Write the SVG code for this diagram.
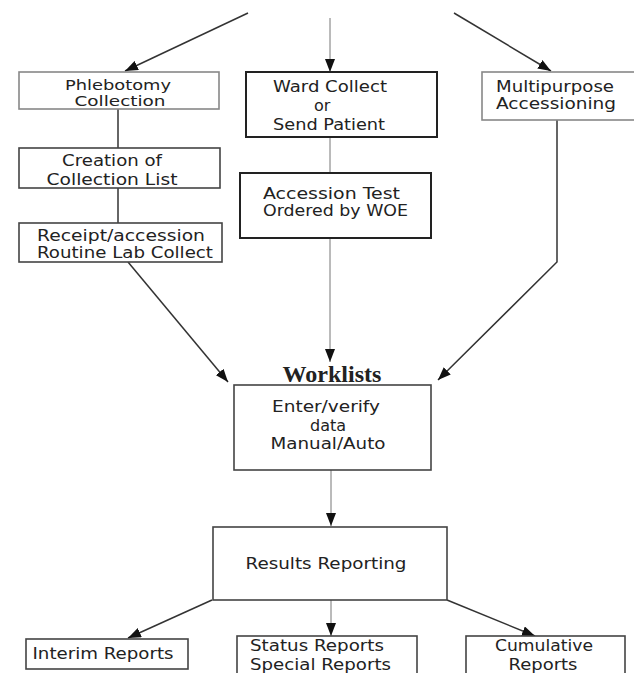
<svg xmlns="http://www.w3.org/2000/svg" width="634" height="673" viewBox="0 0 634 673">
<defs>
<marker id="ah" viewBox="0 0 13 10" refX="13" refY="5" markerWidth="13" markerHeight="10" markerUnits="userSpaceOnUse" orient="auto">
<path d="M0,0 L13,5 L0,10 Z" fill="#111"/>
</marker>
</defs>
<style>
.box{fill:#fff;stroke:#444;stroke-width:1.6}
.lite{stroke:#888}
.dark{stroke:#222;stroke-width:2}
.t{font-family:"DejaVu Sans",sans-serif;font-size:15px;fill:#222}
.s{font-size:14px}
.b{font-size:16px}
.c{text-anchor:middle}
.wl{font-family:"Liberation Serif",serif;font-weight:bold;font-size:23px;fill:#222;text-anchor:middle}
.ln{fill:none;stroke:#333;stroke-width:1.5}
.thin{fill:none;stroke:#777;stroke-width:1}
.arr{marker-end:url(#ah)}
</style>
<rect width="634" height="673" fill="#fff"/>
<g id="connectors">
<line class="ln arr" x1="248" y1="13" x2="125" y2="71"/>
<line class="thin arr" x1="330" y1="18" x2="330" y2="72"/>
<line class="ln arr" x1="454" y1="13" x2="551" y2="71"/>
<line class="ln" x1="118" y1="109" x2="118" y2="148"/>
<line class="ln" x1="118" y1="188" x2="118" y2="223"/>
<line class="ln arr" x1="128" y1="262" x2="228" y2="382"/>
<line class="thin" x1="330" y1="137" x2="330" y2="173"/>
<line class="thin arr" x1="330" y1="238" x2="330" y2="362"/>
<polyline class="ln arr" points="557,120 557,262 438,380"/>
<line class="thin arr" x1="331" y1="470" x2="331" y2="526"/>
<line class="ln arr" x1="212" y1="600" x2="128" y2="638"/>
<line class="thin arr" x1="331" y1="600" x2="331" y2="636"/>
<line class="ln arr" x1="447" y1="600" x2="535" y2="636"/>
</g>
<g id="phlebotomy">
<rect class="box lite" x="19" y="72" width="200" height="37"/>
<text class="t s c" x="118" y="90" textLength="106" lengthAdjust="spacingAndGlyphs">Phlebotomy</text>
<text class="t s c" x="120" y="106" textLength="91" lengthAdjust="spacingAndGlyphs">Collection</text>
</g>
<g id="ward">
<rect class="box dark" x="246" y="72" width="191" height="65"/>
<text class="t" x="273" y="92" textLength="114" lengthAdjust="spacingAndGlyphs">Ward Collect</text>
<text class="t b" x="314" y="111">or</text>
<text class="t" x="273" y="130" textLength="112" lengthAdjust="spacingAndGlyphs">Send Patient</text>
</g>
<g id="multipurpose">
<rect class="box lite" x="482" y="72" width="160" height="48"/>
<text class="t" x="496" y="92" textLength="118" lengthAdjust="spacingAndGlyphs">Multipurpose</text>
<text class="t" x="496" y="109" textLength="120" lengthAdjust="spacingAndGlyphs">Accessioning</text>
</g>
<g id="creation">
<rect class="box" x="19" y="148" width="201" height="40"/>
<text class="t c" x="112" y="166" textLength="100" lengthAdjust="spacingAndGlyphs">Creation of</text>
<text class="t c" x="112" y="185" textLength="131" lengthAdjust="spacingAndGlyphs">Collection List</text>
</g>
<g id="receipt">
<rect class="box" x="19" y="223" width="203" height="39"/>
<text class="t" x="37" y="241" textLength="168" lengthAdjust="spacingAndGlyphs">Receipt/accession</text>
<text class="t" x="37" y="258" textLength="176" lengthAdjust="spacingAndGlyphs">Routine Lab Collect</text>
</g>
<g id="accession">
<rect class="box dark" x="240" y="173" width="191" height="65"/>
<text class="t" x="263" y="199" textLength="137" lengthAdjust="spacingAndGlyphs">Accession Test</text>
<text class="t" x="263" y="216" textLength="145" lengthAdjust="spacingAndGlyphs">Ordered by WOE</text>
</g>
<g id="worklists">
<text class="wl" x="332" y="382" textLength="99" lengthAdjust="spacingAndGlyphs">Worklists</text>
<rect class="box" x="234" y="385" width="197" height="85"/>
<text class="t c" x="326" y="412" textLength="108" lengthAdjust="spacingAndGlyphs">Enter/verify</text>
<text class="t b c" x="328" y="431">data</text>
<text class="t c" x="328" y="449" textLength="115" lengthAdjust="spacingAndGlyphs">Manual/Auto</text>
</g>
<g id="results">
<rect class="box" x="213" y="527" width="234" height="73"/>
<text class="t c" x="326" y="569" textLength="161" lengthAdjust="spacingAndGlyphs">Results Reporting</text>
</g>
<g id="interim">
<rect class="box" x="26" y="639" width="162" height="30"/>
<text class="t c" x="103" y="659" textLength="141" lengthAdjust="spacingAndGlyphs">Interim Reports</text>
</g>
<g id="status">
<rect class="box" x="237" y="636" width="180" height="45"/>
<text class="t" x="250" y="651" textLength="134" lengthAdjust="spacingAndGlyphs">Status Reports</text>
<text class="t" x="250" y="670" textLength="141" lengthAdjust="spacingAndGlyphs">Special Reports</text>
</g>
<g id="cumulative">
<rect class="box" x="466" y="636" width="159" height="45"/>
<text class="t c" x="544" y="651" textLength="98" lengthAdjust="spacingAndGlyphs">Cumulative</text>
<text class="t c" x="543" y="670" textLength="69" lengthAdjust="spacingAndGlyphs">Reports</text>
</g>
</svg>
